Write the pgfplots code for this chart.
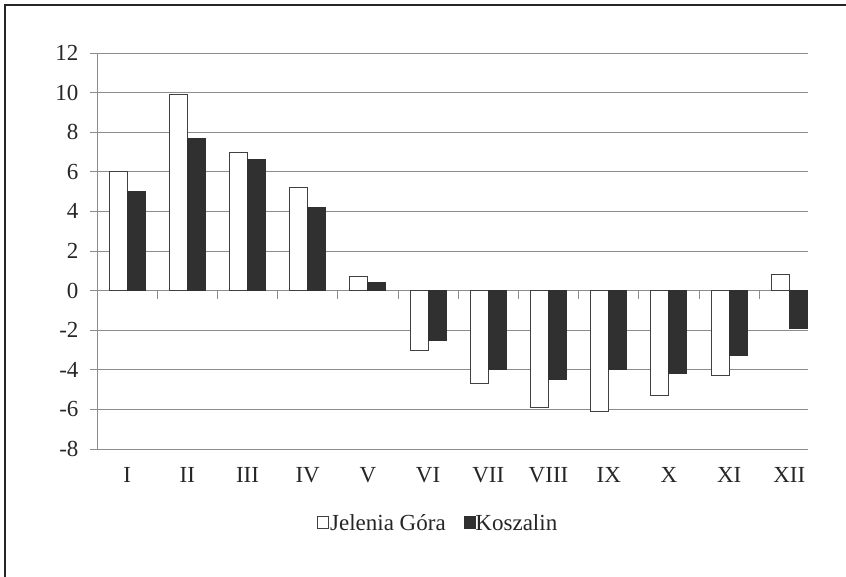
\documentclass[border=0pt]{standalone}
\usepackage{pgfplots}
\pgfplotsset{compat=1.18}
\usepackage{fontspec}
\setmainfont{Liberation Serif}
\definecolor{gridgray}{HTML}{8C8C8C}
\definecolor{bardark}{HTML}{303030}
\begin{document}
\begin{tikzpicture}
\useasboundingbox (0,0) rectangle (846bp,577bp);
% frame (only top and left edges visible)
\draw[line width=1.6bp, black!85] (5bp,0) -- (5bp,572bp) -- (846bp,572bp);
\begin{axis}[
    at={(97bp,128bp)}, anchor=south west,
    scale only axis,
    width=711bp, height=396bp,
    xmin=0.5, xmax=12.31,
    ymin=-8, ymax=12,
    ytick={-8,-6,...,12},
    xtick={1,...,12},
    xticklabels={I,II,III,IV,V,VI,VII,VIII,IX,X,XI,XII},
    axis line style={draw=none},
    ymajorgrids,
    grid style={gridgray, line width=0.9bp},
    tick align=outside,
    ytick pos=left,
    major tick length=7bp,
    ytick style={gridgray, line width=0.9bp},
    xtick style={draw=none},
    /pgf/number format/assume math mode=true,
    tick label style={font=\fontsize{23bp}{27bp}\selectfont, black!85},
    xticklabel style={yshift=-8bp},
    yticklabel style={xshift=-8bp},
    clip=false,
    legend style={draw=none, at={(0.48,-0.187)}, anchor=center,
        font=\fontsize{23bp}{27bp}\selectfont, text=black!85,
        legend columns=2, /tikz/every even column/.append style={column sep=16bp},
        inner sep=0pt},
    legend image code/.code={\draw[#1, line width=0.8bp] (0bp,-5bp) rectangle (11bp,7bp);},
    legend cell align=left,
]
\addplot[ybar, bar width=18bp, bar shift=-9bp, draw=black!75, line width=0.9bp, fill=white]
coordinates {(1,6.0) (2,9.9) (3,7.0) (4,5.2) (5,0.7) (6,-3.0) (7,-4.7) (8,-5.9) (9,-6.1) (10,-5.3) (11,-4.3) (12,0.8)};
\addlegendentry{\hspace{-1bp}Jelenia Góra}
\addplot[ybar, bar width=18bp, bar shift=9bp, draw=bardark, line width=0.9bp, fill=bardark]
coordinates {(1,5.0) (2,7.7) (3,6.6) (4,4.2) (5,0.4) (6,-2.5) (7,-4.0) (8,-4.5) (9,-4.0) (10,-4.2) (11,-3.3) (12,-1.9)};
\addlegendentry{\hspace{-2bp}Koszalin}
\draw[gridgray, line width=0.9bp] (axis cs:0.5,-8) -- (axis cs:0.5,12);
\pgfplotsinvokeforeach{1.5,2.5,3.5,4.5,5.5,6.5,7.5,8.5,9.5,10.5,11.5}{
  \draw[gridgray, line width=0.9bp] (axis cs:#1,0) -- ([yshift=-8bp]axis cs:#1,0);
}
\end{axis}
\end{tikzpicture}
\end{document}
